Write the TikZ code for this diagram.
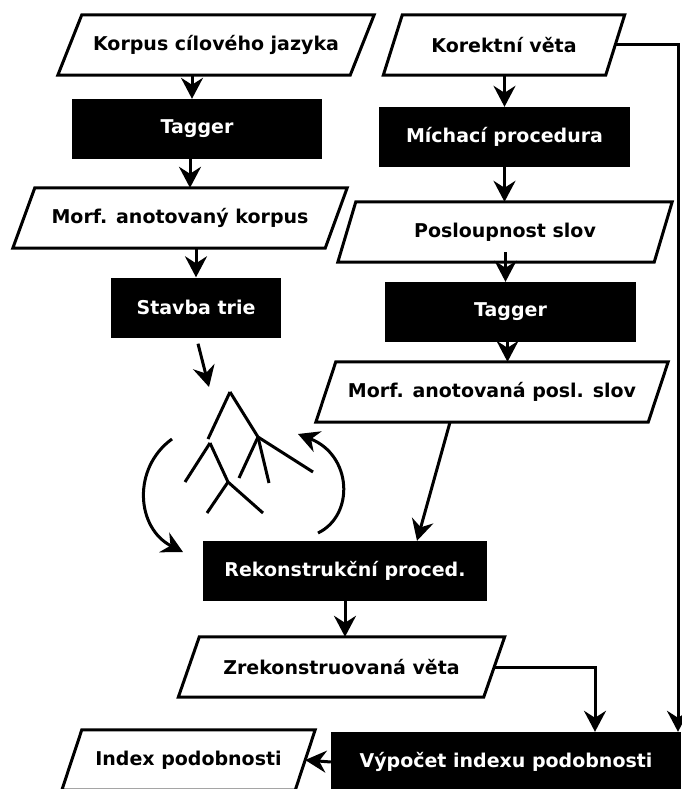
\documentclass[tikz,border=0pt]{standalone}
\usepackage{fontspec}
\setmainfont{DejaVu Sans}
\usetikzlibrary{arrows.meta}

\tikzset{
  flow/.style={line width=3pt, draw=black},
  arr/.style={flow, -{Stealth[length=21pt,width=22pt,inset=7pt]}},
  boxfont/.style={font=\bfseries\fontsize{19}{22}\selectfont},
  blackbox/.style={boxfont, fill=black, text=white, minimum height=60pt, inner sep=0pt},
  slanttext/.style={boxfont, minimum height=60pt, inner sep=0pt},
}

% name, centre, edge length, half of the horizontal slant, text
\newcommand\slantnode[5]{%
  \node[slanttext, minimum width=#3pt] (#1) at (#2) {#5};
  \draw[flow] ([xshift=-#4pt]#1.south west) -- ([xshift=-#4pt]#1.south east)
    -- ([xshift=#4pt]#1.north east) -- ([xshift=#4pt]#1.north west) -- cycle;
}

\begin{document}
\begin{tikzpicture}[x=1pt, y=-1pt]
  \useasboundingbox (0,0) rectangle (681,789);

  % left column: building the trie
  \slantnode{korpus}{216,45}{292}{12}{Korpus cílového jazyka}
  \node[blackbox, minimum width=250pt] (tagA) at (197,129) {Tagger};
  \slantnode{morfA}{180,218}{312}{11}{Morf. anotovaný korpus}
  \node[blackbox, minimum width=170pt] (stavba) at (196,307.5) {Stavba trie};

  % right column: scrambling the sentence
  \slantnode{korektni}{504,45}{222}{9.5}{Korektní věta}
  \node[blackbox, minimum width=251pt] (mich) at (504.5,137) {Míchací procedura};
  \slantnode{posl}{505,232}{316}{9}{Posloupnost slov}
  \node[blackbox, minimum width=251pt] (tagB) at (510.5,312) {Tagger};
  \slantnode{morfB}{492,392}{332}{10}{Morf. anotovaná posl. slov}

  % reconstruction and evaluation
  \node[blackbox, minimum width=284pt] (rek) at (345,571) {Rekonstrukční proced.};
  \slantnode{zrek}{341.5,667}{305}{10.5}{Zrekonstruovaná věta}
  \node[blackbox, minimum width=350pt] (vyp) at (506,762) {Výpočet indexu podobnosti};
  \slantnode{index}{188.5,760}{233}{10}{Index podobnosti}

  % the trie
  \coordinate (apex) at (230,392);
  \coordinate (lnode) at (210,443);
  \coordinate (rnode) at (258,437);
  \coordinate (mnode) at (228,482);
  \begin{scope}[flow]
    \draw (apex) -- (208,439);
    \draw (apex) -- (rnode);
    \draw (lnode) -- (185,482);
    \draw (lnode) -- (mnode);
    \draw (mnode) -- (207,513);
    \draw (mnode) -- (263,513);
    \draw (rnode) -- (239,478);
    \draw (rnode) -- (269,483);
    \draw (rnode) -- (313,472);
  \end{scope}

  % connectors
  \draw[arr] ([xshift=-5pt]tagA.north |- korpus.south) -- ([xshift=-5pt]tagA.north);
  \draw[arr] ([xshift=-7pt]tagA.south) -- ([xshift=-7pt]tagA.south |- morfA.north);
  \draw[arr] (stavba.north |- morfA.south) -- (stavba.north);
  \coordinate (trieIn) at (209,387);
  \draw[arr] ([xshift=2pt,yshift=-6pt]stavba.south) -- (trieIn);

  \draw[arr] (mich.north |- korektni.south) -- (mich.north);
  \draw[arr] (mich.south) -- (mich.south |- posl.north);
  \draw[arr] ([xshift=-5pt,yshift=10pt]tagB.north |- posl.south) -- ([xshift=-5pt]tagB.north);
  \draw[arr] ([xshift=-3pt]tagB.south) -- ([xshift=-3pt]tagB.south |- morfB.north);
  \draw[arr] ([xshift=-42pt]morfB.south) -- ([xshift=72pt]rek.north);

  % loop between the trie and the reconstruction
  \coordinate (loopLa) at (172,439);
  \coordinate (loopLb) at (183,552);
  \coordinate (loopRa) at (318,533);
  \coordinate (loopRb) at (298,434);
  \draw[arr] (loopLa) .. controls (132,468) and (136,528) .. (loopLb);
  \draw[arr] (loopRa) .. controls (355,515) and (352,455) .. (loopRb);

  \draw[arr] (rek.south) -- (rek.south |- zrek.north);
  \draw[arr] (zrek.east) -| ([xshift=89pt]vyp.north);
  \draw[arr] (korektni.east) -| ([xshift=172pt]vyp.north);
  \draw[arr] (vyp.west) -- (index.east);
\end{tikzpicture}
\end{document}
